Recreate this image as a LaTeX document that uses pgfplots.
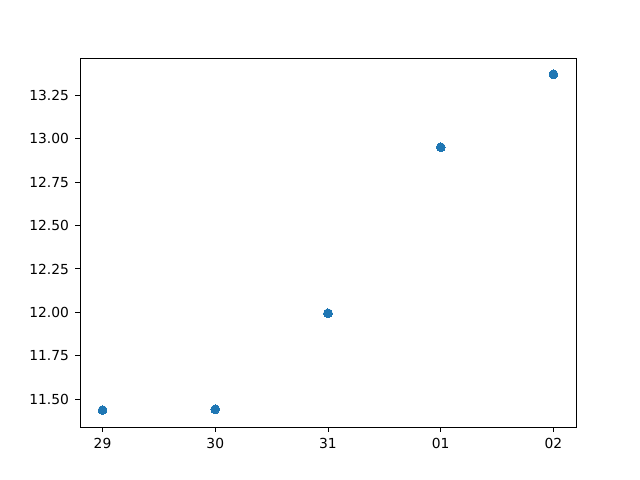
\documentclass[border=0pt]{standalone}
\usepackage{pgfplots}
\pgfplotsset{compat=1.18}
\usepackage{fontspec}
\setmainfont{DejaVu Sans}
\definecolor{mplblue}{HTML}{1F77B4}
\begin{document}
\begin{tikzpicture}
\useasboundingbox (0,0) rectangle (6.4in,4.8in);
\begin{axis}[
  at={(0.8in,0.53in)}, anchor=south west,
  scale only axis, width=4.96in, height=3.69in,
  xmin=-0.2, xmax=4.2, ymin=11.340, ymax=13.465,
  xtick={0,1,2,3,4}, xticklabels={29,30,31,01,02},
  ytick={11.5,11.75,12,12.25,12.5,12.75,13,13.25},
  y tick label style={/pgf/number format/fixed,/pgf/number format/fixed zerofill,/pgf/number format/precision=2},
  /pgf/number format/assume math mode=true,
  tick align=outside, tick pos=left,
  major tick length=3.5pt,
  every tick/.style={black, line width=0.7pt},
  axis line style={line width=0.7pt},
  ticklabel style={font=\fontsize{10}{12}\selectfont},
  x tick label style={yshift=-1pt},
  y tick label style={xshift=-1pt},
]
\addplot[only marks, mark=*, mark size=3.2pt, color=mplblue, mark options={draw=mplblue, fill=mplblue, line width=0pt}]
coordinates {(0,11.437) (1,11.442) (2,11.995) (3,12.951) (4,13.371)};
\end{axis}
\end{tikzpicture}
\end{document}
